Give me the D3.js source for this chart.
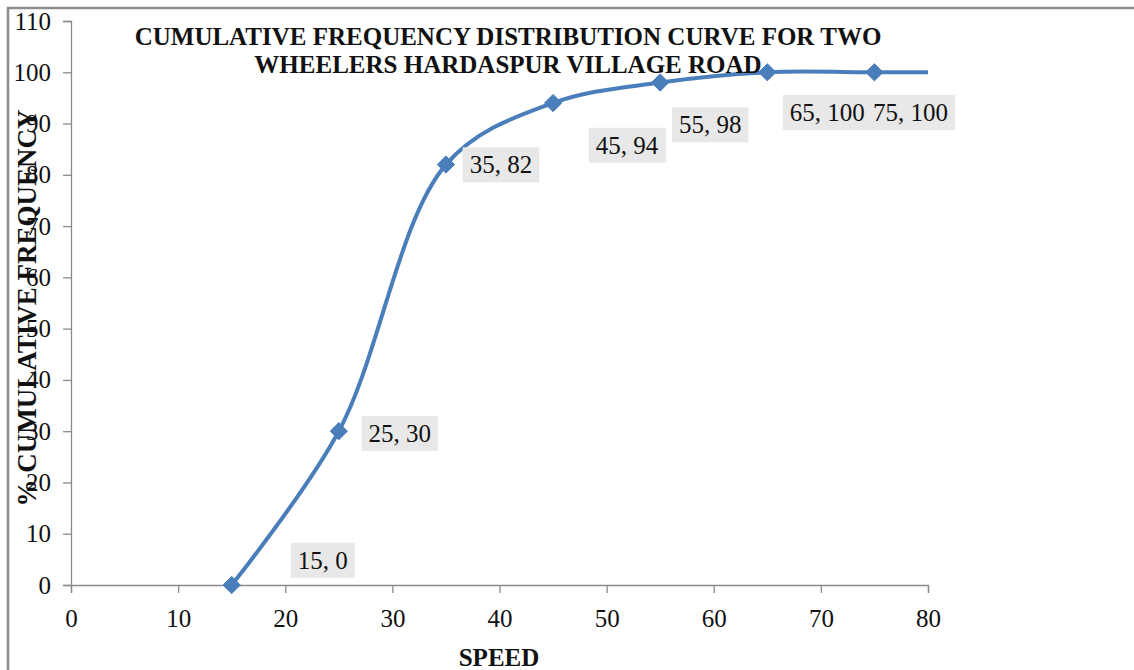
<!DOCTYPE html>
<html>
<head>
<meta charset="utf-8">
<script src="https://cdn.jsdelivr.net/npm/d3@7"></script>
<style>
  html, body { margin: 0; padding: 0; background: #fff; }
  svg { display: block; }
</style>
</head>
<body>
<svg id="chart" width="1134" height="670"></svg>
<script>
// ---- data ----
const speeds = [15, 25, 35, 45, 55, 65, 75, 80];
const cumFreq = [0, 30, 82, 94, 98, 100, 100, 100];
const markerCount = 7; // last point (80) has no marker / label
const xTicks = [0, 10, 20, 30, 40, 50, 60, 70, 80];
const yTicks = [0, 10, 20, 30, 40, 50, 60, 70, 80, 90, 100, 110];
const titleLines = ["CUMULATIVE FREQUENCY DISTRIBUTION CURVE FOR TWO", "WHEELERS HARDASPUR VILLAGE ROAD"];
const xLabel = "SPEED";
const yLabel = "% CUMULATIVE FREQUENCY";
// label offsets (layout) relative to each point, in px
const labelDx = [91, 61, 55, 74, 50, 60, 36];
const labelDy = [-25, 2, 0, 42, 42, 40, 40];

const svg = d3.select("#chart");
const serif = "'Liberation Serif', 'Times New Roman', serif";
const blue = "#4a7ebb";

// outer frame
svg.append("path")
  .attr("d", "M8,680 V8 H1140")
  .attr("fill", "none").attr("stroke", "#8c8c8c").attr("stroke-width", 2.5);

const x = d3.scaleLinear().domain([0, 80]).range([71, 928]);
const y = d3.scaleLinear().domain([0, 110]).range([585, 21]);

// axes
const xAxis = svg.append("g").attr("transform", `translate(0,${y(0)})`)
  .call(d3.axisBottom(x).tickValues(xTicks).tickSize(8).tickPadding(16).tickFormat(d3.format("d")));
const yAxis = svg.append("g").attr("transform", `translate(${x(0)},0)`)
  .call(d3.axisLeft(y).tickValues(yTicks).tickSize(8).tickPadding(12).tickFormat(d3.format("d")));
[xAxis, yAxis].forEach(g => {
  g.select(".domain").attr("stroke", "#8a8a8a").attr("stroke-width", 1.3);
  g.selectAll(".tick line").attr("stroke", "#8a8a8a").attr("stroke-width", 1.3);
  g.selectAll(".tick text").attr("fill", "#111").style("font-family", serif).style("font-size", "25px");
});

// curve
const pts = speeds.map((s, i) => [x(s), y(cumFreq[i])]);
svg.append("path")
  .attr("d", d3.line().curve(d3.curveCatmullRom.alpha(0.5))(pts))
  .attr("fill", "none").attr("stroke", blue).attr("stroke-width", 4);

// markers
const markers = pts.slice(0, markerCount);
svg.selectAll(".mk").data(markers).enter().append("path")
  .attr("class", "mk")
  .attr("transform", d => `translate(${d[0]},${d[1]})`)
  .attr("d", d3.symbol().type(d3.symbolDiamond2).size(190))
  .attr("fill", blue).attr("stroke", blue).attr("stroke-width", 1);

// data labels
const lbl = svg.append("g");
markers.forEach((d, i) => {
  const cx = d[0] + labelDx[i], cy = d[1] + labelDy[i];
  const text = `${speeds[i]}, ${cumFreq[i]}`;
  const g = lbl.append("g");
  const t = g.append("text")
    .attr("x", cx).attr("y", cy).attr("text-anchor", "middle").attr("dy", "0.35em")
    .style("font-family", serif).style("font-size", "25px").attr("fill", "#111")
    .text(text);
  const bb = t.node().getBBox();
  g.insert("rect", "text")
    .attr("x", bb.x - 7).attr("y", bb.y - 4).attr("width", bb.width + 14).attr("height", bb.height + 8)
    .attr("fill", "#e8e8e8");
});

// title
svg.append("text")
  .attr("x", 508).attr("y", 0)
  .attr("text-anchor", "middle")
  .style("font-family", serif).style("font-size", "25px").style("font-weight", "bold").attr("fill", "#111")
  .selectAll("tspan").data(titleLines).enter().append("tspan")
  .attr("x", 508).attr("y", (d, i) => 45 + i * 28).text(d => d);

// axis titles
svg.append("text")
  .attr("x", 499).attr("y", 666).attr("text-anchor", "middle")
  .style("font-family", serif).style("font-size", "25px").style("font-weight", "bold").attr("fill", "#111")
  .text(xLabel);
svg.append("text")
  .attr("transform", "translate(36,308) rotate(-90)")
  .attr("text-anchor", "middle")
  .style("font-family", serif).style("font-size", "27px").style("font-weight", "bold").attr("fill", "#111")
  .text(yLabel);
</script>
</body>
</html>
